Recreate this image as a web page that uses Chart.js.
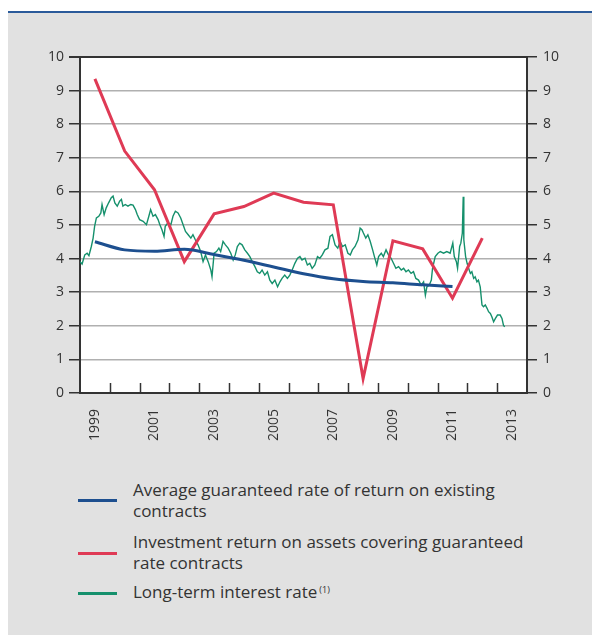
<!DOCTYPE html>
<html><head><meta charset="utf-8">
<script src="https://cdn.jsdelivr.net/npm/chart.js@4"></script>
<style>
html,body{margin:0;padding:0;background:#fff;width:592px;height:635px;overflow:hidden;font-family:"Open Sans",sans-serif;}
#panel{position:absolute;left:8px;top:13px;width:584px;height:622px;background:#e1e1e1;}
#topline{position:absolute;left:8px;top:11px;width:584px;height:2px;background:#2a5a9a;}
#wrap{position:absolute;left:0;top:0;width:592px;height:460px;}
.leg{position:absolute;left:133px;color:#333;font-size:17px;line-height:21px;white-space:nowrap;}
.leg sup{font-size:9px;vertical-align:top;position:relative;top:-2px;margin-left:2px;}
.sw{position:absolute;left:78px;width:39px;height:3px;}
</style></head><body>
<div id="panel"></div><div id="topline"></div>
<div id="wrap"><canvas id="c" width="592" height="460"></canvas></div>
<div class="sw" style="top:499px;background:#1d4f8f"></div>
<div class="leg" style="top:479px">Average guaranteed rate of return on existing<br>contracts</div>
<div class="sw" style="top:552px;background:#df3a55"></div>
<div class="leg" style="top:531px">Investment return on assets covering guaranteed<br>rate contracts</div>
<div class="sw" style="top:592px;background:#15906c"></div>
<div class="leg" style="top:581px">Long-term interest rate<sup>(1)</sup></div>
<script>
const annualYears = [1999.5,2000.5,2001.5,2002.5,2003.5,2004.5,2005.5,2006.5,2007.5,2008.5,2009.5,2010.5,2011.5,2012.5];
const guaranteedRate = [4.5,4.26,4.22,4.28,4.12,3.95,3.75,3.55,3.4,3.32,3.28,3.22,3.17];
const investmentReturn = [9.35,7.2,6.05,3.91,5.33,5.55,5.95,5.68,5.6,0.43,4.53,4.29,2.82,4.61];
const longTermDates = [1999.00,1999.07,1999.16,1999.24,1999.30,1999.38,1999.44,1999.49,1999.55,1999.63,1999.70,1999.74,1999.81,1999.88,1999.96,
2000.05,2000.11,2000.17,2000.25,2000.33,2000.39,2000.44,2000.52,2000.61,2000.70,2000.78,2000.86,2000.92,
2001.00,2001.12,2001.23,2001.31,2001.37,2001.45,2001.53,2001.62,2001.68,2001.75,2001.82,2001.86,2001.95,
2002.05,2002.12,2002.20,2002.29,2002.38,2002.46,2002.54,2002.63,2002.72,2002.79,2002.87,2002.96,
2003.05,2003.13,2003.21,2003.30,2003.39,2003.43,2003.50,2003.58,2003.66,2003.72,2003.80,2003.88,2003.97,
2004.06,2004.14,2004.21,2004.28,2004.36,2004.44,2004.53,2004.62,2004.70,2004.78,2004.87,2004.95,
2005.03,2005.11,2005.20,2005.29,2005.37,2005.45,2005.54,2005.63,2005.71,2005.78,2005.87,2005.96,
2006.04,2006.12,2006.21,2006.30,2006.38,2006.45,2006.55,2006.63,2006.71,2006.79,2006.88,2006.97,
2007.05,2007.13,2007.22,2007.32,2007.39,2007.47,2007.56,2007.65,2007.73,2007.81,2007.90,2007.99,
2008.07,2008.14,2008.23,2008.33,2008.40,2008.46,2008.51,2008.59,2008.66,2008.74,2008.82,2008.88,2008.96,
2009.02,2009.11,2009.18,2009.27,2009.35,2009.44,2009.52,2009.60,2009.69,2009.78,2009.86,2009.94,
2010.02,2010.11,2010.19,2010.27,2010.36,2010.45,2010.53,2010.59,2010.64,2010.72,2010.79,2010.83,2010.92,
2011.01,2011.09,2011.20,2011.31,2011.42,2011.51,2011.56,2011.63,2011.67,2011.74,2011.78,2011.83,2011.86,2011.88,2011.94,2011.99,
2012.04,2012.10,2012.15,2012.21,2012.26,2012.32,2012.37,2012.43,2012.49,2012.54,2012.60,2012.66,2012.71,2012.77,2012.82,2012.88,2012.94,
2013.01,2013.10,2013.16,2013.21,2013.25];
const longTermRate = [3.91,3.84,4.11,4.16,4.09,4.36,4.61,4.96,5.21,5.26,5.36,5.61,5.31,5.51,5.66,
5.81,5.86,5.66,5.56,5.71,5.76,5.56,5.61,5.56,5.61,5.59,5.46,5.31,
5.16,5.11,5.01,5.26,5.46,5.26,5.31,5.16,5.01,4.86,4.66,4.96,5.06,
5.01,5.26,5.41,5.36,5.21,5.01,4.81,4.71,4.61,4.71,4.56,4.41,
4.21,3.91,4.11,3.91,3.66,3.46,4.16,4.21,4.31,4.21,4.51,4.41,4.31,
4.16,3.96,4.11,4.36,4.46,4.41,4.26,4.16,4.06,3.91,3.76,3.61,
3.56,3.66,3.51,3.61,3.36,3.26,3.36,3.16,3.31,3.41,3.51,3.41,
3.51,3.66,3.86,4.01,4.06,3.96,4.01,3.81,3.86,3.71,3.81,4.06,
4.01,4.11,4.26,4.31,4.66,4.71,4.41,4.31,4.51,4.36,4.41,4.16,
4.11,4.26,4.36,4.56,4.91,4.86,4.76,4.61,4.71,4.51,4.26,4.06,3.81,
4.06,4.16,4.06,4.26,4.11,4.01,3.86,3.71,3.76,3.66,3.71,3.61,
3.66,3.56,3.61,3.41,3.36,3.21,3.31,2.91,3.16,3.21,3.36,3.71,4.06,
4.16,4.21,4.16,4.21,4.16,4.46,4.06,3.91,3.71,4.36,4.46,4.76,5.84,4.56,4.06,3.86,
3.71,3.56,3.61,3.41,3.46,3.31,3.36,3.16,2.62,2.57,2.62,2.52,2.42,2.37,2.27,2.12,2.22,
2.32,2.32,2.22,2.02,1.97];
const yTickValues = [0,1,2,3,4,5,6,7,8,9,10];
const xLabelYears = [1999,2001,2003,2005,2007,2009,2011,2013];
const xTickYears = [2000,2001,2002,2003,2004,2005,2006,2007,2008,2009,2010,2011,2012,2013];

const pts = (xs, ys) => ys.map((v,i)=>({x:xs[i], y:v}));
const dark = '#333333';

const plotBg = {
  id:'plotBg',
  beforeDraw(chart){
    const {ctx, chartArea:a} = chart;
    ctx.save(); ctx.fillStyle='#ffffff';
    ctx.fillRect(a.left,a.top,a.right-a.left,a.bottom-a.top); ctx.restore();
  },
  afterDraw(chart){
    const {ctx, chartArea:a, scales:{x}} = chart;
    ctx.save(); ctx.strokeStyle=dark; ctx.lineWidth=1.5;
    xTickYears.forEach(yr=>{
      const px = Math.round(x.getPixelForValue(yr))+0.5;
      ctx.beginPath(); ctx.moveTo(px,a.bottom); ctx.lineTo(px,a.bottom-10); ctx.stroke();
    });
    ctx.restore();
  }
};

new Chart(document.getElementById('c'), {
  type:'line',
  data:{datasets:[
    {label:'Long-term interest rate', data:pts(longTermDates,longTermRate), borderColor:'#15906c', borderWidth:1.4, pointRadius:0, tension:0, order:3},
    {label:'Average guaranteed rate of return on existing contracts', data:pts(annualYears,guaranteedRate), borderColor:'#1d4f8f', borderWidth:3, pointRadius:0, cubicInterpolationMode:'monotone', order:1},
    {label:'Investment return on assets covering guaranteed rate contracts', data:pts(annualYears,investmentReturn), borderColor:'#df3a55', borderWidth:3, pointRadius:0, tension:0, order:2}
  ]},
  options:{
    responsive:false, animation:false,
    layout:{padding:{top:57,left:0,right:0,bottom:0}},
    plugins:{legend:{display:false}, tooltip:{enabled:false}},
    scales:{
      x:{type:'linear', min:1999, max:2014,
        afterBuildTicks:s=>{s.ticks = xLabelYears.map(v=>({value:v+0.5}));},
        ticks:{autoSkip:false, maxRotation:90, minRotation:90, padding:16, color:dark, font:{family:'Open Sans', size:14}, callback:v=>String(Math.floor(v))},
        grid:{display:false, drawTicks:false},
        border:{display:true, color:dark, width:2},
        afterFit:s=>{s.height=67;}
      },
      y:{position:'left', min:0, max:10,
        afterBuildTicks:s=>{s.ticks = yTickValues.map(v=>({value:v}));},
        ticks:{padding:5, color:dark, font:{family:'Open Sans', size:14}},
        grid:{color:c=>c.tick && c.tick.value===10 ? dark : '#b0b0b0', lineWidth:c=>c.tick && c.tick.value===10 ? 2 : 1.5, tickColor:dark, tickLength:11},
        border:{color:dark, width:2},
        afterFit:s=>{s.width=80;}
      },
      y2:{position:'right', min:0, max:10,
        afterBuildTicks:s=>{s.ticks = yTickValues.map(v=>({value:v}));},
        ticks:{padding:6, color:dark, font:{family:'Open Sans', size:14}},
        grid:{drawOnChartArea:false, tickColor:dark, tickLength:10, lineWidth:1.5},
        border:{color:dark, width:2},
        afterFit:s=>{s.width=65;}
      }
    }
  },
  plugins:[plotBg]
});
</script>
</body></html>
